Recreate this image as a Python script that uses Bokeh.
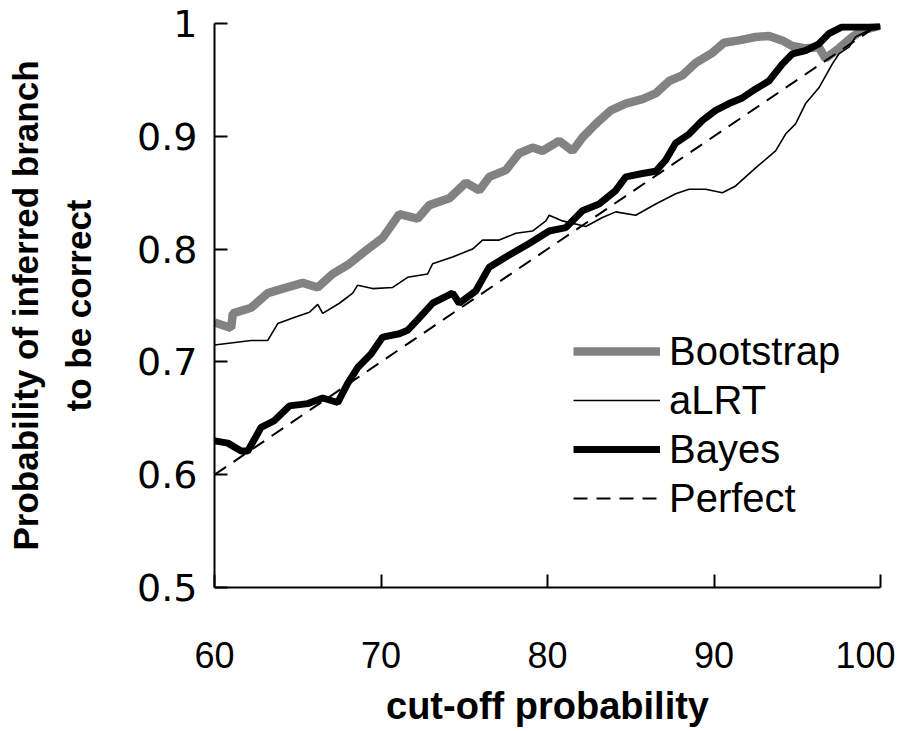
from bokeh.plotting import figure
from bokeh.models import Legend, LegendItem, FixedTicker, NumeralTickFormatter, Range1d
from bokeh.embed import file_html
from bokeh.resources import INLINE

# ---- data ----
boot_x = [60.0, 61.0, 61.1, 62.2, 63.2, 64.1, 65.3, 66.2, 67.1, 68.1, 69.2, 70.1, 71.1, 72.2,
          72.9, 74.1, 75.1, 75.9, 76.5, 77.5, 78.3, 79.1, 79.7, 80.7, 81.5, 82.1, 82.9, 83.8,
          84.7, 85.7, 86.5, 87.3, 88.1, 88.9, 89.9, 90.6, 91.5, 92.5, 93.3, 94.1, 94.7, 95.5,
          96.3, 96.7, 97.5, 98.3, 98.9, 99.7, 100.0]
boot_y = [0.735, 0.730, 0.743, 0.748, 0.761, 0.765, 0.770, 0.766, 0.778, 0.787, 0.800, 0.810,
          0.831, 0.827, 0.839, 0.845, 0.859, 0.852, 0.864, 0.870, 0.885, 0.890, 0.887, 0.896,
          0.887, 0.899, 0.911, 0.923, 0.929, 0.933, 0.938, 0.949, 0.954, 0.965, 0.974, 0.983,
          0.985, 0.988, 0.989, 0.985, 0.980, 0.978, 0.979, 0.969, 0.978, 0.988, 0.994, 0.997,
          0.998]

alrt_x = [60.0, 61.1, 62.2, 63.2, 63.8, 64.7, 65.7, 66.2, 66.5, 67.5, 68.3, 68.6, 69.5, 70.7,
          71.6, 72.8, 73.1, 74.3, 75.5, 76.1, 77.1, 78.1, 79.1, 79.9, 80.1, 80.9, 82.3, 83.3,
          84.1, 85.3, 86.5, 87.7, 88.5, 89.5, 90.5, 91.3, 92.5, 93.7, 94.3, 94.9, 95.5, 96.3,
          97.1, 97.5, 98.1, 98.5, 99.3, 99.7, 100.0]
alrt_y = [0.715, 0.717, 0.719, 0.719, 0.734, 0.739, 0.744, 0.751, 0.743, 0.752, 0.761, 0.768,
          0.765, 0.766, 0.775, 0.778, 0.787, 0.793, 0.800, 0.808, 0.808, 0.814, 0.816, 0.825,
          0.830, 0.825, 0.820, 0.828, 0.833, 0.830, 0.840, 0.849, 0.853, 0.853, 0.850, 0.856,
          0.872, 0.887, 0.902, 0.911, 0.929, 0.943, 0.964, 0.973, 0.979, 0.988, 0.994, 0.997,
          0.998]

bayes_x = [60.0, 60.8, 61.6, 62.0, 62.8, 63.6, 64.5, 65.6, 66.5, 67.4, 68.0, 68.6, 69.4, 70.1,
           71.1, 71.6, 72.3, 73.1, 74.3, 74.7, 75.7, 76.5, 77.5, 78.9, 80.1, 81.1, 82.1, 83.1,
           84.1, 84.7, 85.7, 86.5, 87.1, 87.7, 88.5, 89.3, 90.1, 90.9, 91.7, 92.5, 93.3, 94.1,
           94.7, 95.5, 96.3, 96.9, 97.7, 99.7, 100.0]
bayes_y = [0.630, 0.628, 0.621, 0.621, 0.642, 0.648, 0.661, 0.663, 0.668, 0.664, 0.681, 0.695,
           0.707, 0.722, 0.725, 0.728, 0.739, 0.752, 0.761, 0.752, 0.763, 0.784, 0.793, 0.805,
           0.816, 0.819, 0.834, 0.840, 0.852, 0.864, 0.867, 0.869, 0.879, 0.894, 0.902, 0.914,
           0.923, 0.929, 0.934, 0.942, 0.949, 0.964, 0.973, 0.976, 0.982, 0.991, 0.997, 0.997,
           0.998]

perfect_x = [60, 100]
perfect_y = [0.6, 1.0]

x_ticks = [60, 70, 80, 90, 100]
y_ticks = [0.5, 0.6, 0.7, 0.8, 0.9, 1.0]

p = figure(width=895, height=715, output_backend="svg", toolbar_location=None,
           x_range=Range1d(60, 100), y_range=Range1d(0.5, 1.0),
           frame_width=666, frame_height=564,
           min_border_left=214, min_border_top=23, min_border_right=15, min_border_bottom=128)
p.outline_line_color = None
p.grid.visible = False
p.background_fill_color = "white"

r_boot = p.line(boot_x, boot_y, line_color="#828282", line_width=8.5)
r_alrt = p.line(alrt_x, alrt_y, line_color="black", line_width=1.6)
r_bayes = p.line(bayes_x, bayes_y, line_color="black", line_width=7)
r_perf = p.line(perfect_x, perfect_y, line_color="black", line_width=2, line_dash="14 9")

for ax in (p.xaxis[0], p.yaxis[0]):
    ax.axis_line_width = 2
    ax.axis_line_color = "black"
    ax.major_tick_in = 13
    ax.major_tick_out = 0
    ax.major_tick_line_width = 2
    ax.minor_tick_in = 0
    ax.minor_tick_out = 0
    ax.major_label_text_color = "black"
    ax.axis_label_text_color = "black"
    ax.axis_label_text_font_style = "bold"
    ax.axis_label_text_font = "Liberation Sans"

p.xaxis.ticker = FixedTicker(ticks=x_ticks)
p.yaxis.ticker = FixedTicker(ticks=y_ticks)
p.yaxis.formatter = NumeralTickFormatter(format="0.[0]")

p.xaxis.major_label_text_font = "Liberation Sans"
p.xaxis.major_label_text_font_size = "36px"
p.xaxis.major_label_standoff = 54
p.xaxis.axis_label = "cut-off probability"
p.xaxis.axis_label_text_font_size = "38px"
p.xaxis.axis_label_standoff = 14

p.yaxis.major_label_text_font = "DejaVu Sans"
p.yaxis.major_label_text_font_size = "38px"
p.yaxis.major_label_standoff = 17
p.yaxis.axis_label = "Probability of inferred branch\nto be correct"
p.yaxis.axis_label_text_font_size = "35px"
p.yaxis.axis_label_standoff = 36
p.yaxis.axis_label_text_line_height = 1.35

legend = Legend(items=[
    LegendItem(label="Bootstrap", renderers=[r_boot]),
    LegendItem(label="aLRT", renderers=[r_alrt]),
    LegendItem(label="Bayes", renderers=[r_bayes]),
    LegendItem(label="Perfect", renderers=[r_perf]),
], location=(359, 65))
legend.glyph_width = 87
legend.glyph_height = 48
legend.label_height = 48
legend.spacing = 1
legend.padding = 0
legend.margin = 0
legend.label_standoff = 9
legend.label_text_font = "Liberation Sans"
legend.label_text_font_size = "40px"
legend.label_text_color = "black"
legend.border_line_alpha = 0
legend.background_fill_alpha = 0
p.add_layout(legend)

open("out.html", "w").write(file_html(p, INLINE))
